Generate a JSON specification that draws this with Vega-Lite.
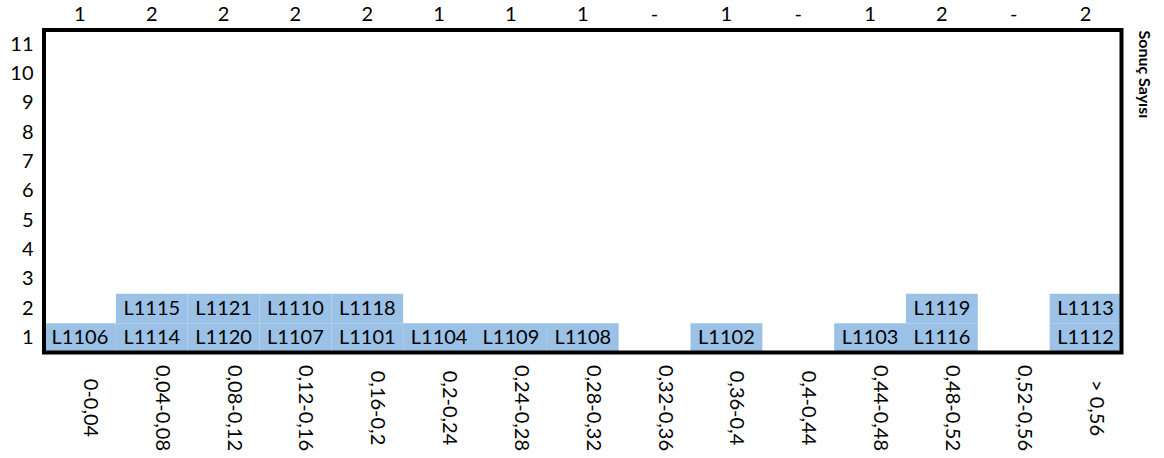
{
  "$schema": "https://vega.github.io/schema/vega-lite/v6.json",
  "padding": {"left": 9, "top": 0, "right": 5, "bottom": 0},
  "bounds": "flush",
  "spacing": 0,
  "datasets": {
    "cols": [
      {"bin": "0-0,04", "n": "1"},
      {"bin": "0,04-0,08", "n": "2"},
      {"bin": "0,08-0,12", "n": "2"},
      {"bin": "0,12-0,16", "n": "2"},
      {"bin": "0,16-0,2", "n": "2"},
      {"bin": "0,2-0,24", "n": "1"},
      {"bin": "0,24-0,28", "n": "1"},
      {"bin": "0,28-0,32", "n": "1"},
      {"bin": "0,32-0,36", "n": "-"},
      {"bin": "0,36-0,4", "n": "1"},
      {"bin": "0,4-0,44", "n": "-"},
      {"bin": "0,44-0,48", "n": "1"},
      {"bin": "0,48-0,52", "n": "2"},
      {"bin": "0,52-0,56", "n": "-"},
      {"bin": "> 0,56", "n": "2"}
    ],
    "cells": [
      {"bin": "0-0,04", "row": 1, "id": "L1106"},
      {"bin": "0,04-0,08", "row": 1, "id": "L1114"},
      {"bin": "0,04-0,08", "row": 2, "id": "L1115"},
      {"bin": "0,08-0,12", "row": 1, "id": "L1120"},
      {"bin": "0,08-0,12", "row": 2, "id": "L1121"},
      {"bin": "0,12-0,16", "row": 1, "id": "L1107"},
      {"bin": "0,12-0,16", "row": 2, "id": "L1110"},
      {"bin": "0,16-0,2", "row": 1, "id": "L1101"},
      {"bin": "0,16-0,2", "row": 2, "id": "L1118"},
      {"bin": "0,2-0,24", "row": 1, "id": "L1104"},
      {"bin": "0,24-0,28", "row": 1, "id": "L1109"},
      {"bin": "0,28-0,32", "row": 1, "id": "L1108"},
      {"bin": "0,36-0,4", "row": 1, "id": "L1102"},
      {"bin": "0,44-0,48", "row": 1, "id": "L1103"},
      {"bin": "0,48-0,52", "row": 1, "id": "L1116"},
      {"bin": "0,48-0,52", "row": 2, "id": "L1119"},
      {"bin": "> 0,56", "row": 1, "id": "L1112"},
      {"bin": "> 0,56", "row": 2, "id": "L1113"}
    ]
  },
  "vconcat": [
    {
      "width": 1077.5,
      "height": 29.5,
      "view": {"stroke": null},
      "data": {"name": "cols"},
      "mark": {"type": "text", "font": "Lato", "fontSize": 20, "color": "black", "baseline": "middle"},
      "encoding": {
        "x": {
          "field": "bin", "type": "ordinal",
          "scale": {"domain": ["0-0,04","0,04-0,08","0,08-0,12","0,12-0,16","0,16-0,2","0,2-0,24","0,24-0,28","0,28-0,32","0,32-0,36","0,36-0,4","0,4-0,44","0,44-0,48","0,48-0,52","0,52-0,56","> 0,56"], "paddingInner": 0, "paddingOuter": 0},
          "axis": null
        },
        "text": {"field": "n"}
      }
    },
    {
      "width": 1077.5,
      "height": 322.5,
      "data": {"name": "cells"},
      "view": {"stroke": null},
      "layer": [
        {
          "mark": {"type": "rect", "color": "#9BC2E6"},
          "encoding": {
            "x": {
              "field": "bin", "type": "ordinal",
              "scale": {"domain": ["0-0,04","0,04-0,08","0,08-0,12","0,12-0,16","0,16-0,2","0,2-0,24","0,24-0,28","0,28-0,32","0,32-0,36","0,36-0,4","0,4-0,44","0,44-0,48","0,48-0,52","0,52-0,56","> 0,56"], "paddingInner": 0, "paddingOuter": 0},
              "axis": {"orient": "bottom", "title": null, "labelAngle": 90, "labelAlign": "center", "labelBaseline": "middle", "labelPadding": 55, "labelOffset": 10}
            },
            "y": {
              "field": "row", "type": "ordinal",
              "scale": {"domain": [11,10,9,8,7,6,5,4,3,2,1], "paddingInner": 0, "paddingOuter": 0},
              "axis": {"orient": "left", "title": null, "labelPadding": 11}
            }
          }
        },
        {
          "mark": {"type": "text", "font": "Lato", "fontSize": 20, "color": "black", "baseline": "middle"},
          "encoding": {
            "x": {"field": "bin", "type": "ordinal"},
            "y": {
              "field": "row", "type": "ordinal",
              "axis": {"orient": "right", "labels": false, "title": "Sonuç Sayısı", "titleFont": "Lato", "titleFontSize": 16, "titleFontWeight": "bold", "titleColor": "black", "titleAngle": 90, "titleAnchor": "start", "titleAlign": "left", "titlePadding": 14}
            },
            "text": {"field": "id"}
          }
        },
        {
          "data": {"values": [{}]},
          "mark": {"type": "rect", "fill": null, "stroke": "black", "strokeWidth": 4},
          "encoding": {}
        }
      ],
      "resolve": {"axis": {"y": "independent"}}
    }
  ],
  "config": {
    "view": {"stroke": null},
    "font": "Lato",
    "axis": {"grid": false, "ticks": false, "tickSize": 0, "domain": false, "labelFont": "Lato", "labelFontSize": 20, "labelColor": "black"}
  }
}
